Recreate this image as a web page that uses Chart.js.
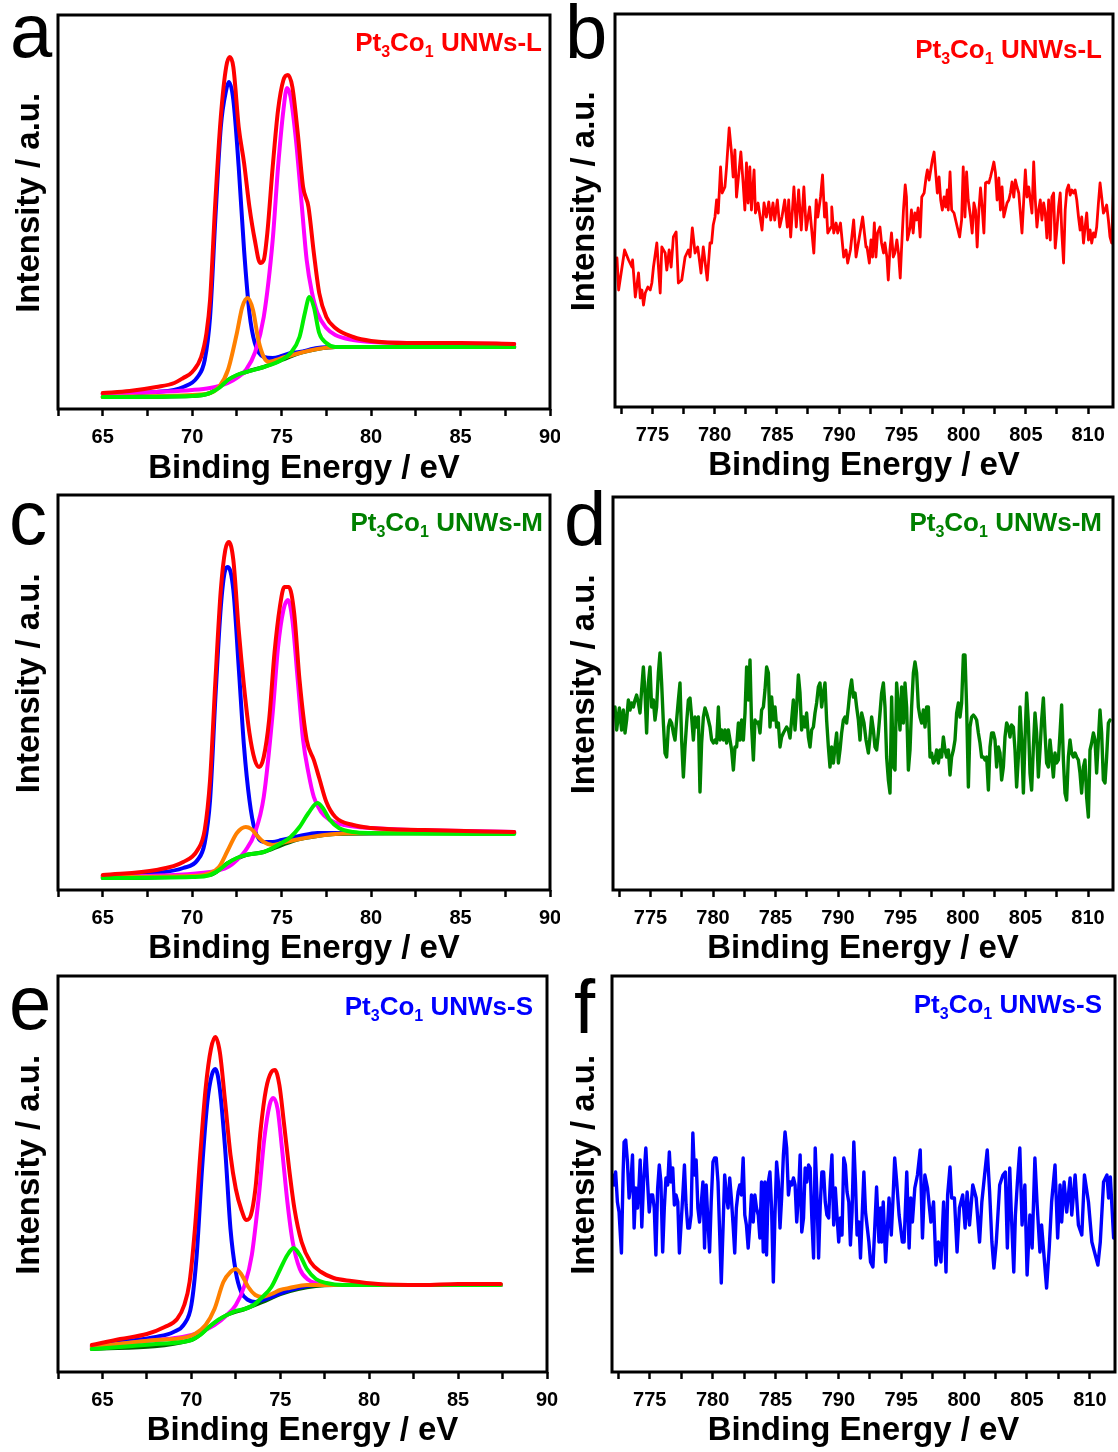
<!DOCTYPE html>
<html><head><meta charset="utf-8">
<script src="https://cdn.jsdelivr.net/npm/chart.js@4.4.1/dist/chart.umd.min.js"></script>
<style>
html,body{margin:0;padding:0;background:#fff;}
#fig{position:relative;width:1118px;height:1452px;overflow:hidden;background:#fff;font-family:"Liberation Sans",Arial,sans-serif;}
#fig canvas{position:absolute;}
.lt{position:absolute;font-size:76px;line-height:1;color:#000;}
.tt{position:absolute;font-size:26px;font-weight:bold;line-height:1;white-space:nowrap;}
.tt sub{font-size:16px;vertical-align:-6px;line-height:0;}
</style></head>
<body><div id="fig">
<canvas id="ca" width="560" height="485" style="left:0;top:0"></canvas>
<canvas id="cb" width="558" height="485" style="left:560px;top:0"></canvas>
<canvas id="cc" width="560" height="481" style="left:0;top:485px"></canvas>
<canvas id="cd" width="558" height="481" style="left:560px;top:485px"></canvas>
<canvas id="ce" width="560" height="484" style="left:0;top:966px"></canvas>
<canvas id="cf" width="558" height="484" style="left:560px;top:966px"></canvas>
<div class="lt" style="left:10px;top:-7px">a</div>
<div class="lt" style="left:565px;top:-6px">b</div>
<div class="lt" style="left:9px;top:480px">c</div>
<div class="lt" style="left:564px;top:481px">d</div>
<div class="lt" style="left:9px;top:965px">e</div>
<div class="lt" style="left:574px;top:969px">f</div>
<div class="tt" style="right:576px;top:29px;color:#ff0000">Pt<sub>3</sub>Co<sub>1</sub> UNWs-L</div>
<div class="tt" style="right:16px;top:36px;color:#ff0000">Pt<sub>3</sub>Co<sub>1</sub> UNWs-L</div>
<div class="tt" style="right:575px;top:509px;color:#008000">Pt<sub>3</sub>Co<sub>1</sub> UNWs-M</div>
<div class="tt" style="right:16px;top:509px;color:#008000">Pt<sub>3</sub>Co<sub>1</sub> UNWs-M</div>
<div class="tt" style="right:585px;top:993px;color:#0000ff">Pt<sub>3</sub>Co<sub>1</sub> UNWs-S</div>
<div class="tt" style="right:16px;top:991px;color:#0000ff">Pt<sub>3</sub>Co<sub>1</sub> UNWs-S</div>
</div>
<script>
// ===== tick positions (labels on multiples of 5) =====
const ptTicks = [62.5,65,67.5,70,72.5,75,77.5,80,82.5,85,87.5,90];
const coTicks = [772.5,775,777.5,780,782.5,785,787.5,790,792.5,795,797.5,800,802.5,805,807.5,810];

// ===== Pt 4f fits (panels a, c, e): [binding energy eV, intensity a.u.] =====
const aEnvelope = [[65,16],[66.5,18],[68,22],[69,26],[69.5,31],[70,37],[70.5,52],[70.8,76],[71,109],[71.3,209],[71.6,292],[71.9,342],[72.1,352],[72.3,342],[72.6,282],[72.9,246],[73.2,202],[73.5,169],[73.8,146],[74,149],[74.2,176],[74.5,242],[74.8,299],[75.1,329],[75.35,334],[75.6,322],[75.9,276],[76.2,222],[76.5,202],[76.8,156],[77.1,116],[77.5,92],[78,81],[79,72],[80,68],[82,66],[85,66],[88,65]];
const aPt0_72 = [[65,15],[68,17],[69.5,22],[70.3,32],[70.7,49],[71,92],[71.3,192],[71.6,282],[71.9,319],[72.05,327],[72.3,309],[72.6,242],[72.9,159],[73.2,96],[73.5,66],[74,52],[74.5,51],[75,53],[75.5,56],[76,57],[77,61],[78,62],[80,62],[88,62]];
const aPt0_75 = [[65,15],[70,19],[71,21],[72,26],[72.5,31],[73,39],[73.5,56],[74,92],[74.5,169],[74.8,242],[75.1,299],[75.3,321],[75.5,312],[75.8,269],[76.1,209],[76.4,149],[76.7,116],[77,96],[77.5,81],[78,74],[79,69],[80,67],[82,66],[88,65]];
const aPt2_73 = [[65,12],[70,14],[71,16],[71.5,22],[72,39],[72.5,76],[72.8,102],[73.1,111],[73.4,99],[73.7,69],[74,52],[74.3,47],[74.7,49],[75.2,52],[76,56],[77,60],[78,62],[80,62],[88,62]];
const aPt2_76 = [[65,12],[70,13],[71,16],[71.5,21],[72,29],[72.5,34],[73,37],[74,42],[75,49],[75.5,56],[76,72],[76.3,96],[76.55,112],[76.8,102],[77.1,76],[77.5,66],[78,62],[80,62],[88,62]];
const aBackground = [[65,12],[70,13],[71,16],[72,29],[73,37],[74,42],[75,49],[76,56],[77,60],[78,62],[88,62]];

const cEnvelope = [[65,15],[68,20],[69.5,28],[70.3,40],[70.7,60],[71,110],[71.3,210],[71.6,300],[71.85,340],[72.05,348],[72.3,330],[72.6,260],[72.9,203],[73.2,157],[73.5,130],[73.75,123],[74,133],[74.3,170],[74.6,237],[74.9,283],[75.15,303],[75.4,303],[75.7,277],[76,210],[76.4,150],[76.8,130],[77.1,112],[77.5,88],[78,73],[79,65],[80,62],[83,60],[88,58]];
const cPt0_72 = [[65,14],[68,17],[69.5,22],[70.3,30],[70.7,47],[71,90],[71.3,193],[71.6,283],[71.85,320],[72,323],[72.3,300],[72.6,223],[72.9,143],[73.2,90],[73.5,60],[74,48],[74.5,48],[75,50],[76,54],[77,57],[78,57],[88,57]];
const cPt0_75 = [[65,13],[71,18],[72,23],[72.5,30],[73,40],[73.5,57],[74,93],[74.5,177],[74.8,243],[75.1,280],[75.35,290],[75.6,270],[75.9,210],[76.2,150],[76.5,117],[76.8,93],[77.2,78],[77.7,70],[78.5,65],[80,62],[88,58]];
const cPt2_73 = [[65,13],[70,14],[71,17],[71.5,23],[72,40],[72.5,57],[73,63],[73.3,61],[73.7,53],[74,48],[74.5,45],[75,47],[76,51],[77,54],[78,56],[80,57],[88,57]];
const cPt2_77 = [[65,12],[70,13],[71,15],[71.5,20],[72,27],[72.5,32],[73,35],[74,38],[75,47],[75.5,53],[76,63],[76.5,77],[77,87],[77.3,82],[77.7,70],[78.2,62],[79,58],[80,57],[88,56]];
const cBackground = [[65,12],[71,15],[72,27],[73,35],[74,38],[75,45],[76,51],[77,54],[78,56],[88,57]];

const eEnvelope = [[64.4,27],[66,33],[67.5,38],[68.5,45],[69.2,53],[69.6,67],[69.9,90],[70.2,143],[70.5,217],[70.8,283],[71.1,323],[71.35,335],[71.6,320],[71.9,270],[72.2,217],[72.5,183],[72.8,163],[73.1,152],[73.35,157],[73.6,183],[73.9,243],[74.2,283],[74.5,300],[74.7,302],[74.95,287],[75.2,250],[75.5,203],[75.8,163],[76.2,130],[76.7,110],[77.3,100],[78,94],[79,91],[80.5,88],[83,87],[85,88],[87.4,88]];
const ePt0_71 = [[64.4,26],[66,30],[68,35],[69,40],[69.6,48],[70,67],[70.3,117],[70.6,203],[70.9,270],[71.15,297],[71.35,303],[71.6,283],[71.9,223],[72.2,143],[72.5,100],[72.8,80],[73.2,72],[73.6,70],[74,72],[74.5,75],[75.2,80],[76,84],[77,87],[78,87],[80,87],[87.4,87]];
const ePt0_75 = [[64.4,25],[68,32],[69.5,35],[70.5,40],[71.3,47],[72,57],[72.5,67],[73,87],[73.4,117],[73.8,177],[74.1,233],[74.4,267],[74.6,274],[74.85,263],[75.1,223],[75.4,170],[75.7,130],[76.1,103],[76.6,92],[77.3,88],[78.5,87],[80,87],[87.4,87]];
const ePt2_72 = [[64.4,25],[68,32],[69.5,34],[70.2,38],[70.8,47],[71.3,63],[71.8,90],[72.2,100],[72.5,103],[72.8,98],[73.2,85],[73.6,77],[74,75],[74.5,78],[75,82],[75.5,84],[76.5,87],[78,87],[87.4,87]];
const ePt2_76 = [[64.4,23],[68,28],[70,32],[70.5,37],[71,45],[71.5,52],[72,57],[72.5,61],[73,63],[73.5,67],[74,75],[74.5,85],[75,103],[75.4,117],[75.75,124],[76.1,117],[76.5,103],[77,93],[77.6,89],[78.5,87],[80,87],[84,87],[87.4,87]];
const eBackground = [[64.4,23],[70,32],[71,45],[72,57],[73,63],[74,70],[75,78],[76,83],[77,86],[78,87],[87.4,87]];

// ===== Co 2p spectra (panels b, d, f): [binding energy eV, intensity a.u.] =====
const bSpectrum = [[772.16,149],[772.29,117],[772.77,157],[773.09,147],[773.36,140],[773.41,147],[773.49,134],[773.63,110],[773.89,134],[774.03,109],[774.16,117],[774.29,102],[774.43,114],[774.64,120],[774.83,117],[774.96,124],[775.09,140],[775.36,164],[775.63,114],[775.76,160],[776.03,154],[776.16,137],[776.35,157],[776.51,140],[776.69,170],[776.91,175],[777.09,124],[777.36,127],[777.63,150],[777.89,157],[778.03,150],[778.21,179],[778.43,154],[778.64,160],[778.75,150],[778.91,134],[779.09,160],[779.41,127],[779.63,164],[779.76,164],[779.89,182],[780.03,190],[780.16,207],[780.29,194],[780.48,240],[780.61,214],[780.83,220],[780.96,240],[781.17,279],[781.36,254],[781.49,230],[781.63,257],[781.76,210],[782.11,255],[782.29,224],[782.43,197],[782.56,244],[782.69,204],[782.83,240],[782.96,197],[783.17,237],[783.28,194],[783.49,204],[783.81,177],[783.97,204],[784.16,190],[784.35,205],[784.51,187],[784.69,204],[784.83,187],[785.04,207],[785.23,180],[785.41,190],[785.63,207],[785.84,180],[785.95,207],[786.11,170],[786.37,220],[786.56,180],[786.75,217],[786.96,177],[787.17,220],[787.36,177],[787.63,200],[787.97,154],[788.16,207],[788.29,190],[788.51,210],[788.67,232],[788.83,190],[788.96,204],[789.09,174],[789.36,180],[789.41,200],[789.57,174],[789.76,184],[789.89,174],[790.11,184],[790.37,150],[790.56,157],[790.69,144],[790.91,157],[791.17,187],[791.36,150],[791.76,180],[791.89,190],[792.16,160],
[792.24,160],[792.43,144],[792.56,167],[792.69,150],[792.83,184],[792.96,150],[793.09,174],[793.28,180],[793.41,164],[793.57,154],[793.68,164],[793.84,150],[793.95,127],[794.08,157],[794.21,174],[794.35,150],[794.48,154],[794.64,167],[794.77,154],[794.91,129],[795.01,157],[795.17,197],[795.31,222],[795.41,210],[795.49,167],[795.71,180],[795.81,197],[795.95,174],[796.08,194],[796.21,187],[796.35,199],[796.51,170],[796.64,210],[796.83,214],[796.99,230],[797.09,237],[797.23,227],[797.36,237],[797.49,247],[797.63,255],[797.76,234],[797.89,214],[798.03,230],[798.16,207],[798.29,197],[798.43,210],[798.56,200],[798.69,217],[798.77,197],[798.91,235],[799.04,197],[799.23,194],[799.36,187],[799.49,180],[799.68,170],[799.84,187],[799.97,240],[800.11,190],[800.24,235],[800.37,207],[800.56,190],[800.69,174],[800.83,204],[800.96,197],[801.09,160],[801.23,197],[801.36,219],[801.49,200],[801.63,174],[801.76,224],[801.89,225],[802.03,224],[802.16,230],[802.29,237],[802.43,245],[802.56,234],[802.69,207],[802.83,229],[802.96,197],[803.09,220],[803.23,190],[803.36,197],[803.49,204],[803.63,207],[803.76,214],[803.89,225],[804.03,210],[804.16,227],[804.29,220],[804.43,214],[804.56,194],[804.69,174],[804.83,207],[804.96,237],[805.09,210],[805.23,220],[805.36,207],[805.49,194],[805.63,245],[805.76,207],[805.89,180],[806.03,197],[806.16,207],[806.29,187],[806.43,204],[806.56,194],[806.69,169],[806.83,207],[806.96,167],[807.09,210],[807.23,214],[807.36,159],[807.49,177],[807.63,200],[807.76,214],[807.89,174],[808.03,144],[808.16,197],[808.29,217],[808.43,222],[808.56,212],[808.69,217],[808.83,214],[808.96,217],[809.09,207],[809.23,190],[809.36,177],[809.49,190],[809.63,164],[809.76,180],[809.89,194],[810.03,167],[810.16,177],[810.29,164],[810.43,174],[810.56,170],[810.69,180],[810.83,204],[810.96,224],[811.09,210],[811.23,194],[811.36,197],[811.49,202],[811.63,187],[811.76,170],[811.89,164],[812.03,214]];

const dSpectrum = [[772.16,183],[772.29,160],[772.51,182],[772.69,160],[772.83,180],[772.96,157],[773.09,170],[773.23,190],[773.36,180],[773.49,187],[773.63,183],[773.76,190],[773.89,195],[774.03,187],[774.16,177],[774.29,200],[774.43,223],[774.56,197],[774.69,157],[774.83,207],[774.96,223],[775.09,183],[775.23,190],[775.36,170],[775.49,183],[775.63,217],[775.76,237],[775.89,207],[776.03,167],[776.16,137],[776.29,133],[776.43,163],[776.56,170],[776.69,167],[776.83,157],[776.96,150],[777.09,170],[777.23,190],[777.36,207],[777.49,150],[777.63,113],[777.76,143],[777.89,167],[778.03,190],[778.16,192],[778.29,173],[778.43,150],[778.56,173],[778.69,163],[778.83,173],[778.96,98],[779.09,147],[779.23,173],[779.36,182],[779.49,177],[779.63,170],[779.76,163],[779.89,150],[780.03,147],[780.16,150],[780.29,147],[780.43,183],[780.56,150],[780.69,160],[780.83,150],[780.96,160],[781.09,147],[781.23,160],[781.36,150],[781.49,140],[781.63,120],[781.76,143],[781.89,143],[782.03,167],[782.16,150],[782.29,170],[782.43,150],[782.56,177],[782.69,223],[782.83,190],[782.96,230],[783.09,163],[783.23,130],[783.36,170],[783.49,167],[783.63,168],[783.76,157],[783.89,180],[784.03,183],[784.16,200],[784.29,223],[784.43,217],[784.56,163],[784.69,193],[784.83,170],[784.96,183],[785.09,163],[785.23,167],[785.36,143],[785.49,153],[785.63,157],[785.76,160],[785.89,163],[786.03,160],[786.16,152],[786.29,170],[786.43,190],[786.56,160],[786.69,183],[786.83,215],[786.96,197],[787.09,160],[787.23,173],[787.36,163],[787.49,177],[787.63,153],[787.76,143],[787.89,160],[788.03,163],[788.16,177],[788.29,187],[788.43,203],[788.56,207],[788.69,183],[788.83,197],[788.96,207],[789.09,170],[789.23,143],[789.36,123],[789.49,143],[789.63,127],[789.76,143],[789.89,157],[790.03,127],[790.16,140],[790.29,157],[790.43,170],[790.56,173],[790.69,167],[790.83,183],[790.96,200],[791.09,210],[791.23,193],[791.36,197],[791.49,183],[791.63,170],[791.76,150],
[791.89,177],[792.08,167],[792.24,150],[792.43,137],[792.56,153],[792.69,173],[792.83,160],[792.96,143],[793.09,140],[793.23,157],[793.36,177],[793.49,197],[793.63,207],[793.76,183],[793.89,133],[794.03,110],[794.16,97],[794.29,193],[794.43,123],[794.56,120],[794.69,207],[794.83,183],[794.96,160],[795.09,203],[795.23,167],[795.36,207],[795.49,183],[795.63,120],[795.76,140],[795.89,183],[796.03,217],[796.16,228],[796.29,217],[796.43,183],[796.56,173],[796.69,167],[796.83,180],[796.96,163],[797.09,183],[797.23,183],[797.36,133],[797.49,137],[797.63,127],[797.76,130],[797.89,140],[798.03,127],[798.16,140],[798.29,133],[798.43,153],[798.56,140],[798.69,133],[798.83,140],[798.96,115],[799.09,133],[799.23,140],[799.36,150],[799.49,177],[799.63,187],[799.76,173],[799.89,187],[800.03,235],[800.16,235],[800.29,183],[800.43,103],[800.56,163],[800.69,173],[800.83,175],[800.96,173],[801.09,170],[801.23,157],[801.36,147],[801.49,133],[801.63,133],[801.76,130],[801.89,133],[802.03,100],[802.16,143],[802.29,157],[802.43,157],[802.56,150],[802.69,123],[802.83,143],[802.96,137],[803.09,110],[803.23,123],[803.36,153],[803.49,167],[803.63,163],[803.76,153],[803.89,165],[804.03,163],[804.16,140],[804.29,103],[804.43,133],[804.56,183],[804.69,150],[804.83,97],[804.96,150],[805.09,197],[805.23,167],[805.36,117],[805.49,100],[805.63,143],[805.76,177],[805.89,157],[806.03,113],[806.16,140],[806.29,170],[806.43,192],[806.56,157],[806.69,127],[806.83,123],[806.96,150],[807.09,133],[807.23,113],[807.36,137],[807.49,127],[807.63,130],[807.76,157],[807.89,185],[808.03,130],[808.16,97],[808.29,90],[808.43,133],[808.56,150],[808.69,137],[808.83,133],[808.96,137],[809.09,133],[809.23,130],[809.36,117],[809.49,97],[809.63,123],[809.76,130],[809.89,93],[810.03,73],[810.16,140],[810.29,147],[810.43,157],[810.56,150],[810.69,117],[810.83,150],[810.96,180],[811.09,157],[811.23,110],[811.36,107],[811.49,133],[811.63,167],[811.76,170]];

const fSpectrum = [[772.03,197],[772.16,187],[772.29,200],[772.43,170],[772.56,160],[772.75,119],[772.88,197],[772.96,230],[773.09,232],[773.23,210],[773.36,174],[773.49,187],[773.63,217],[773.76,144],[773.89,184],[774.03,164],[774.16,190],[774.24,212],[774.37,145],[774.51,190],[774.69,224],[774.83,190],[774.96,160],[775.09,177],[775.23,177],[775.36,164],[775.49,117],[775.63,184],[775.76,207],[775.89,190],[776.03,120],[776.16,164],[776.29,194],[776.43,187],[776.56,220],[776.69,190],[776.83,204],[776.96,167],[777.09,177],[777.23,170],[777.36,119],[777.49,147],[777.63,177],[777.76,207],[777.89,167],[778.03,144],[778.16,144],[778.29,157],[778.43,239],[778.56,197],[778.69,212],[778.83,164],[778.96,150],[779.09,167],[779.23,190],[779.36,124],[779.49,187],[779.63,150],[779.76,120],[779.89,170],[780.03,210],[780.16,214],[780.29,214],[780.43,190],[780.56,140],[780.69,89],[780.83,144],[780.96,197],[781.09,177],[781.23,164],[781.36,194],[781.49,174],[781.63,147],[781.76,119],[781.89,164],[782.03,180],[782.16,187],[782.29,177],[782.43,214],[782.56,157],[782.69,147],[782.83,124],[782.96,147],[783.09,177],[783.23,150],[783.36,177],[783.49,164],[783.63,157],[783.76,134],[783.89,190],[784.03,120],[784.16,190],[784.29,117],[784.43,190],[784.56,200],[784.69,164],[784.83,90],[784.96,157],[785.09,210],[785.23,190],[785.36,144],[785.49,174],[785.63,217],[785.76,240],[785.89,224],[786.03,177],[786.16,190],[786.29,187],[786.43,194],[786.56,187],[786.69,150],[786.83,177],[786.96,217],[787.09,140],[787.23,154],[787.36,204],[787.49,190],[787.63,207],[787.76,204],[787.89,154],[788.03,114],[788.16,224],[788.29,180],[788.43,114],[788.56,167],[788.69,200],[788.83,200],[788.96,170],[789.09,157],[789.23,154],[789.36,190],[789.49,217],[789.63,147],[789.76,184],[789.89,157],[790.03,130],[790.16,154],[790.29,137],[790.43,214],[790.56,207],[790.69,180],[790.83,170],[790.96,127],[791.09,160],[791.23,230],[791.36,190],[791.49,137],[791.63,150],[791.76,114],
[792.03,200],[792.16,160],[792.43,130],[792.56,110],[792.75,105],[792.88,140],[793.04,185],[793.23,130],[793.36,164],[793.44,130],[793.57,170],[793.76,110],[794.03,174],[794.21,137],[794.35,174],[794.48,214],[794.64,190],[794.83,157],[795.09,130],[795.23,130],[795.44,200],[795.63,124],[795.76,174],[795.89,150],[796.08,184],[796.29,197],[796.51,222],[796.69,134],[796.88,197],[797.09,184],[797.36,150],[797.57,170],[797.76,107],[797.95,130],[798.16,110],[798.37,170],[798.56,100],[798.69,177],[798.88,205],[799.01,174],[799.23,174],[799.44,120],[799.63,164],[799.89,177],[800.08,144],[800.24,180],[800.43,147],[800.69,187],[800.96,174],[801.23,130],[801.41,170],[801.63,197],[801.84,222],[802.03,180],[802.21,130],[802.37,104],[802.56,130],[802.83,187],[803.09,197],[803.28,200],[803.44,124],[803.63,204],[803.76,157],[803.95,100],[804.08,157],[804.24,190],[804.43,224],[804.61,147],[804.83,187],[805.01,97],[805.23,157],[805.41,124],[805.63,214],[805.81,167],[806.03,120],[806.16,147],[806.56,84],[806.77,124],[806.96,170],[807.23,207],[807.44,134],[807.63,187],[807.76,150],[807.95,190],[808.16,160],[808.43,194],[808.56,157],[808.83,197],[809.09,147],[809.36,137],[809.57,197],[809.89,170],[810.16,130],[810.64,107],[810.83,130],[811.09,190],[811.36,197],[811.49,174],[811.63,195],[811.89,134]];

// ===== axis text =====
const xTitle = 'Binding Energy / eV';
const yTitle = '\u00a0\u00a0Intensity / a.u.';
const FONT = '"Liberation Sans", Arial, sans-serif';

const framePlugin = {
  id: 'frame',
  afterDraw(chart) {
    const {ctx, chartArea: a} = chart;
    ctx.save();
    ctx.strokeStyle = '#000';
    ctx.lineWidth = 3;
    ctx.strokeRect(a.left, a.top, a.right - a.left, a.bottom - a.top);
    ctx.restore();
  }
};

function ds(points, color, width, smooth) {
  return {
    data: points.map(p => ({x: p[0], y: p[1]})),
    borderColor: color,
    borderWidth: width,
    pointRadius: 0,
    fill: false,
    tension: 0,
    cubicInterpolationMode: smooth ? 'monotone' : 'default',
    borderJoinStyle: 'round',
    borderCapStyle: 'round'
  };
}

function makePanel(id, datasets, L) {
  new Chart(document.getElementById(id), {
    type: 'line',
    data: {datasets},
    options: {
      responsive: false,
      animation: false,
      devicePixelRatio: 1,
      layout: {padding: {left: 0, top: L.padTop, right: L.padRight, bottom: 0}},
      plugins: {legend: {display: false}, tooltip: {enabled: false}},
      scales: {
        x: {
          type: 'linear', min: L.xmin, max: L.xmax,
          afterBuildTicks: s => { s.ticks = L.ticks.map(v => ({value: v})); },
          afterFit: s => { s.height = L.xH; s.paddingLeft = 0; s.paddingRight = 0; },
          ticks: {
            autoSkip: false, maxRotation: 0, minRotation: 0, padding: 9, color: '#000',
            font: {family: FONT, size: 20, weight: 'bold'},
            callback: v => (Math.abs(v / 5 - Math.round(v / 5)) < 1e-6 ? String(Math.round(v)) : '')
          },
          grid: {display: true, drawOnChartArea: false, drawTicks: true, tickLength: 7, tickWidth: 2.5, tickColor: '#000'},
          border: {display: false},
          title: {display: true, text: xTitle, color: '#000', font: {family: FONT, size: 33, weight: 'bold', lineHeight: 1}, padding: {top: 0, bottom: L.xtPad}}
        },
        y: {
          type: 'linear', min: 0, max: L.ymax,
          afterFit: s => { s.width = L.yW; s.paddingTop = 0; s.paddingBottom = 0; },
          ticks: {display: false},
          grid: {display: false},
          border: {display: false},
          title: {display: true, text: yTitle, color: '#000', font: {family: FONT, size: 33, weight: 'bold', lineHeight: 1.2}, padding: {top: L.ytPad, bottom: 0}}
        }
      }
    },
    plugins: [framePlugin]
  });
}

const RED = '#ff0000', BLUE = '#0000ff', MAG = '#ff00ff', ORG = '#ff8000', LGRN = '#00ee00', DGRN = '#006400', GRN = '#008000';
const W = 4;

makePanel('ca', [ds(aEnvelope, RED, W, true), ds(aPt2_76, LGRN, W, true), ds(aPt2_73, ORG, W, true), ds(aPt0_75, MAG, W, true), ds(aPt0_72, BLUE, W, true), ds(aBackground, DGRN, W, true)],
  {xmin: 62.5, xmax: 90, ymax: 394, ticks: ptTicks, padTop: 15, padRight: 10, yW: 58, xH: 76, xtPad: 0, ytPad: 10});
makePanel('cc', [ds(cEnvelope, RED, W, true), ds(cPt2_77, LGRN, W, true), ds(cPt2_73, ORG, W, true), ds(cPt0_75, MAG, W, true), ds(cPt0_72, BLUE, W, true), ds(cBackground, DGRN, W, true)],
  {xmin: 62.5, xmax: 90, ymax: 395, ticks: ptTicks, padTop: 10, padRight: 10, yW: 58, xH: 76, xtPad: 1, ytPad: 10});
makePanel('ce', [ds(eEnvelope, RED, W, true), ds(ePt2_76, LGRN, W, true), ds(ePt2_72, ORG, W, true), ds(ePt0_75, MAG, W, true), ds(ePt0_71, BLUE, W, true), ds(eBackground, DGRN, W, true)],
  {xmin: 62.5, xmax: 90, ymax: 396, ticks: ptTicks, padTop: 10, padRight: 13, yW: 58, xH: 78, xtPad: 3, ytPad: 10});
makePanel('cb', [ds(bSpectrum, RED, 2.8, false)],
  {xmin: 772, xmax: 812, ymax: 393, ticks: coTicks, padTop: 14, padRight: 5, yW: 55, xH: 78, xtPad: 3, ytPad: 5});
makePanel('cd', [ds(dSpectrum, GRN, 3.4, false)],
  {xmin: 772, xmax: 812, ymax: 393, ticks: coTicks, padTop: 12, padRight: 5, yW: 53, xH: 76, xtPad: 1, ytPad: 5});
makePanel('cf', [ds(fSpectrum, BLUE, 3.4, false)],
  {xmin: 772, xmax: 812, ymax: 396, ticks: coTicks, padTop: 10, padRight: 3, yW: 52, xH: 78, xtPad: 3, ytPad: 5});
</script>
</body></html>
